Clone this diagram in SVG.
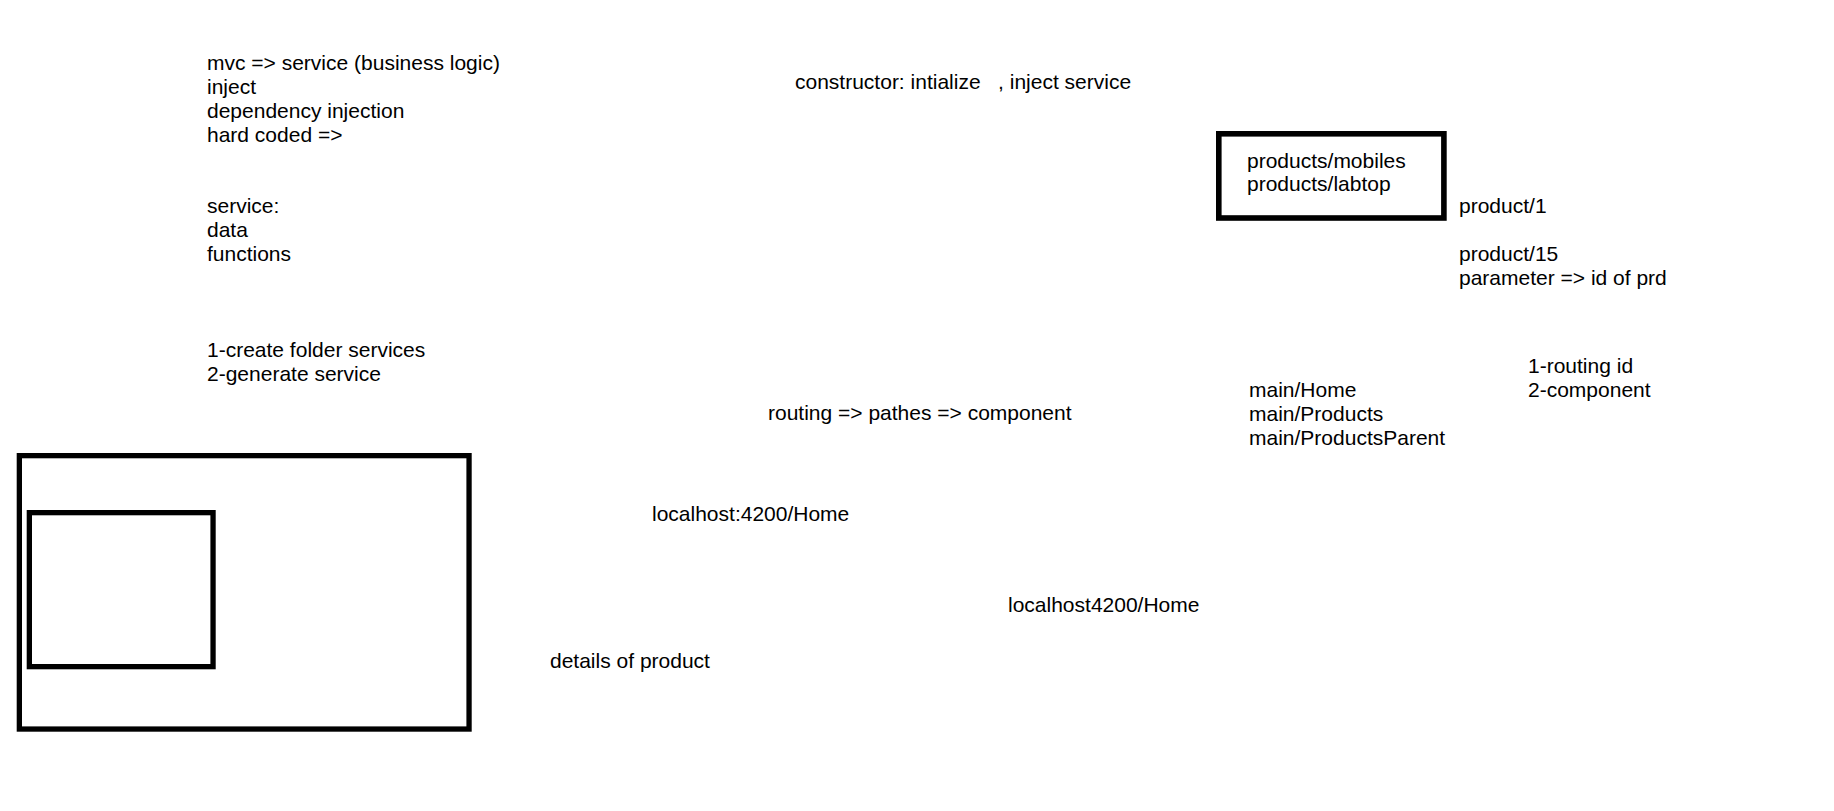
<svg xmlns="http://www.w3.org/2000/svg" width="1834" height="811" viewBox="0 0 1834 811">
<style>
text{font-family:"Liberation Sans",Arial,sans-serif;font-size:21px;fill:#000;white-space:pre}
.box{fill:none;stroke:#000;stroke-width:5.3}
</style>
<rect width="1834" height="811" fill="#fff"/>
<g id="connectors"></g>
<g id="note-mvc">
<text x="207" y="70">mvc =&gt; service (business logic)</text>
<text x="207" y="94">inject</text>
<text x="207" y="118">dependency injection</text>
<text x="207" y="142">hard coded =&gt;</text>
</g>
<g id="note-service">
<text x="207" y="213">service:</text>
<text x="207" y="237">data</text>
<text x="207" y="261">functions</text>
</g>
<g id="note-steps">
<text x="207" y="357">1-create folder services</text>
<text x="207" y="381">2-generate service</text>
</g>
<g id="note-constructor">
<text x="795" y="89" xml:space="preserve">constructor: intialize   , inject service</text>
</g>
<g id="products-box">
<rect class="box" x="1218.8" y="133.8" width="225.1" height="84.2" style="stroke-width:5.6"/>
<text x="1247" y="167.5">products/mobiles</text>
<text x="1247" y="190.5">products/labtop</text>
</g>
<g id="note-product1">
<text x="1459" y="213">product/1</text>
</g>
<g id="note-product15">
<text x="1459" y="261">product/15</text>
<text x="1459" y="285">parameter =&gt; id of prd</text>
</g>
<g id="note-routing-id">
<text x="1528" y="373">1-routing id</text>
<text x="1528" y="397">2-component</text>
</g>
<g id="note-main">
<text x="1249" y="397">main/Home</text>
<text x="1249" y="421">main/Products</text>
<text x="1249" y="445">main/ProductsParent</text>
</g>
<g id="note-routing">
<text x="768" y="420">routing =&gt; pathes =&gt; component</text>
</g>
<g id="outer-box">
<rect class="box" x="19.35" y="455.65" width="449.7" height="273.4"/>
</g>
<g id="inner-box">
<rect class="box" x="29.35" y="512.65" width="183.7" height="154"/>
</g>
<g id="note-localhost1">
<text x="652" y="521">localhost:4200/Home</text>
</g>
<g id="note-details">
<text x="550" y="668">details of product</text>
</g>
<g id="note-localhost2">
<text x="1008" y="612">localhost4200/Home</text>
</g>
</svg>
